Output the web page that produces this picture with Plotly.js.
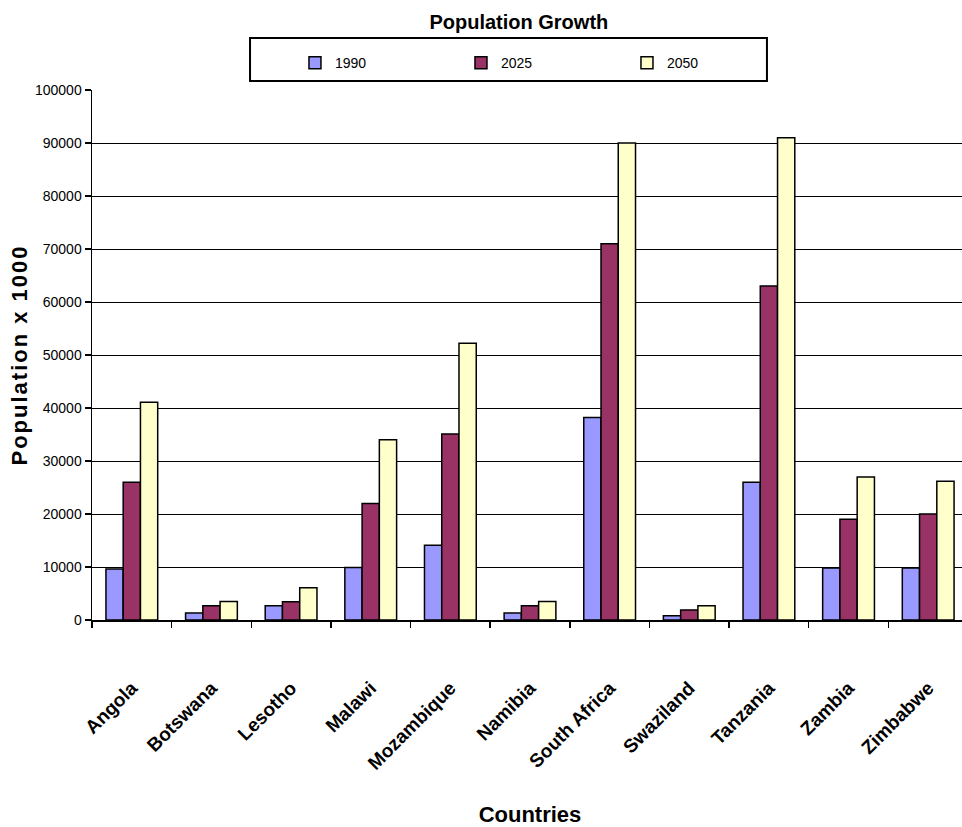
<!DOCTYPE html>
<html>
<head>
<meta charset="utf-8">
<script src="https://cdn.plot.ly/plotly-3.0.1.min.js"></script>
<style>
html, body { margin: 0; padding: 0; overflow: hidden; background: #fff; }
#chart { width: 968px; height: 827px; }
.ytitle { letter-spacing: 2px; }
</style>
</head>
<body>
<div id="chart"></div>
<script>
const countries = ["Angola", "Botswana", "Lesotho", "Malawi", "Mozambique", "Namibia", "South Africa", "Swaziland", "Tanzania", "Zambia", "Zimbabwe"];
const pop1990 = [9600, 1300, 2700, 9900, 14100, 1300, 38200, 800, 26000, 9800, 9800];
const pop2025 = [26000, 2700, 3450, 22000, 35100, 2700, 71000, 1900, 63000, 19000, 20000];
const pop2050 = [41100, 3500, 6100, 34000, 52200, 3500, 90000, 2700, 91000, 27000, 26200];
const seriesNames = ["1990", "2025", "2050"];
const yTicks = [0, 10000, 20000, 30000, 40000, 50000, 60000, 70000, 80000, 90000, 100000];

const colors = ["#9999ff", "#993366", "#ffffcc"];
const font = "Liberation Sans, Arial, sans-serif";
const values = [pop1990, pop2025, pop2050];

const traces = values.map((v, i) => ({
  type: "bar",
  name: seriesNames[i],
  x: countries,
  y: v,
  marker: { color: colors[i], line: { color: "#000", width: 1.5 } }
}));

const layout = {
  width: 968, height: 827,
  margin: { l: 92, r: 0, t: 90, b: 207 },
  paper_bgcolor: "#fff", plot_bgcolor: "#fff",
  barmode: "group", bargap: 0.35, bargroupgap: 0,
  showlegend: true,
  title: {
    text: "<b>Population Growth</b>",
    font: { family: font, size: 20, color: "#000" },
    x: 0.536, xref: "container", xanchor: "center",
    y: 0.973, yref: "container", yanchor: "middle"
  },
  shapes: [{
    type: "rect", xref: "paper", yref: "paper",
    x0: 0.1804, x1: 0.7705, y0: 1.017, y1: 1.098,
    line: { color: "#000", width: 2 }, fillcolor: "rgba(0,0,0,0)"
  }],
  legend: {
    orientation: "h",
    x: 0.2317, xanchor: "left", y: 1.081, yanchor: "top",
    borderwidth: 0, bgcolor: "rgba(0,0,0,0)",
    font: { family: font, size: 14, color: "#000" },
    entrywidth: 121, itemwidth: 30,
    traceorder: "normal"
  },
  xaxis: {
    type: "category",
    range: [-0.5, 10.5],
    showline: true, linecolor: "#000", linewidth: 1.5,
    ticks: "outside", tickson: "boundaries", ticklen: 6, tickcolor: "#000", tickwidth: 1.5,
    tickangle: -45,
    tickfont: { family: font, size: 19, color: "#000", weight: "bold" },
    ticklabelstandoff: 48,
    showgrid: false,
    automargin: false,
    title: { text: "<b>Countries</b>", font: { family: font, size: 22, color: "#000" }, standoff: 35 }
  },
  yaxis: {
    range: [0, 100000],
    tickvals: yTicks,
    ticktext: yTicks.map(String),
    showline: true, linecolor: "#000", linewidth: 1.5,
    ticks: "outside", ticklen: 6, tickcolor: "#000", tickwidth: 1.5,
    tickfont: { family: font, size: 14, color: "#000" },
    showgrid: true, gridcolor: "#000", gridwidth: 1,
    zeroline: false,
    automargin: false,
    title: { text: "<b>Population x 1000</b>", font: { family: font, size: 22, color: "#000" }, standoff: 1 }
  }
};

Plotly.newPlot("chart", traces, layout, { staticPlot: true, displayModeBar: false });
</script>
</body>
</html>
